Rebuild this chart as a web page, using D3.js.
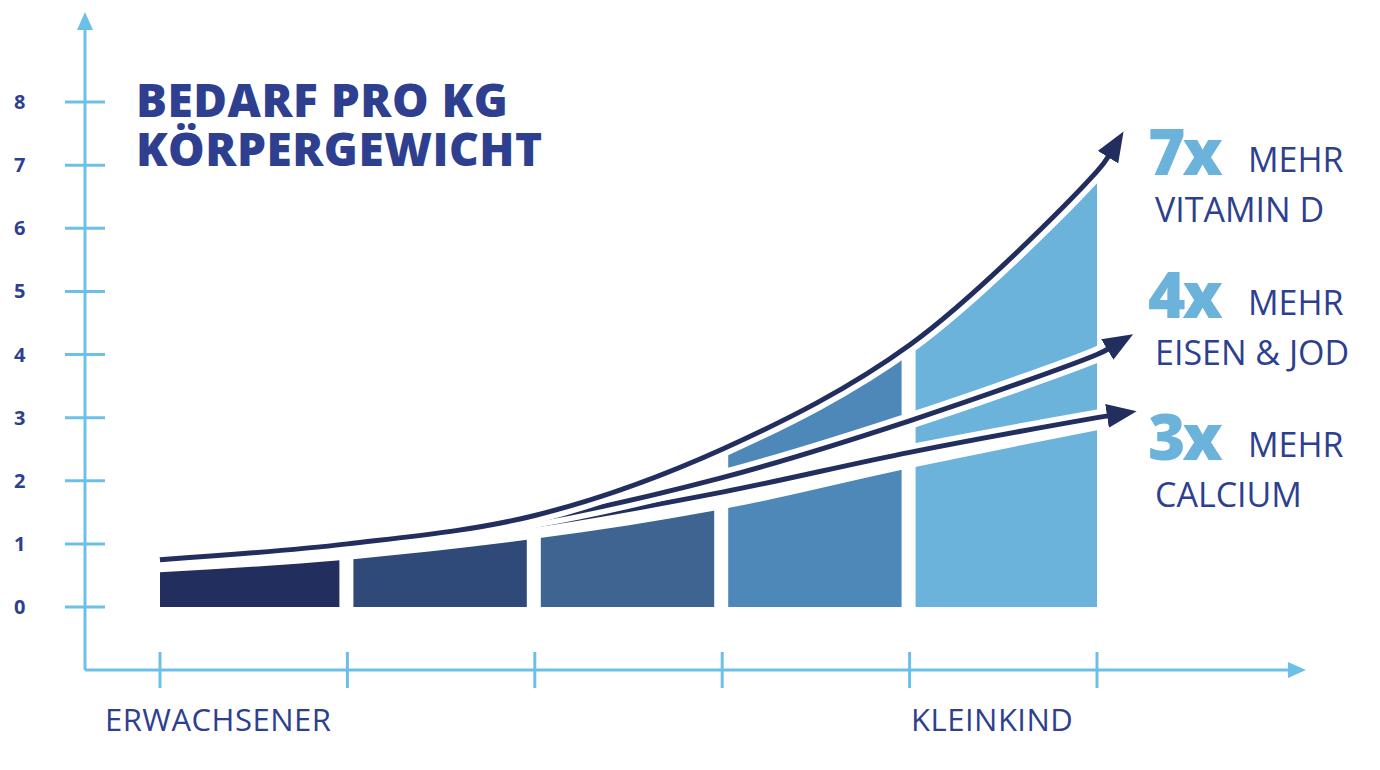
<!DOCTYPE html><html><head><meta charset="utf-8">
<script src="https://cdn.jsdelivr.net/npm/d3@7"></script>
<style>body{margin:0;background:#fff}text{font-family:"Open Sans",sans-serif}</style></head><body>
<svg id="c" width="1380" height="770"></svg>
<script>
const yTicks=[0,1,2,3,4,5,6,7,8];
const xCats=[0,1,2,3,4,5];
const xLabels=[{x:105,t:"ERWACHSENER"},{x:911,t:"KLEINKIND"}];
const vitD=[0.75,1.0,1.45,2.5,4.15,6.9];
const iron=[0.75,0.98,1.38,2.05,2.95,4.0];
const calcium=[0.75,0.97,1.3,1.82,2.45,3.0];
const lowerFill=[0.55,0.75,1.08,1.55,2.2,2.8];
const segColors=["#222f5e","#2f4a78","#3e6591","#4e88b8","#6cb3dc"];
const labels=[{n:"7x",a:"VITAMIN D",y:175},{n:"4x",a:"EISEN & JOD",y:318},{n:"3x",a:"CALCIUM",y:460}];
const svg=d3.select("#c");
const x=d3.scaleLinear().domain([0,5]).range([160,1097]);
const y=d3.scaleLinear().domain([0,8]).range([607,102]);
const ac="#6cc0e8",dark="#222f5e",txt="#2e3f8f";
svg.append("line").attr("x1",85).attr("x2",85).attr("y1",670).attr("y2",25).attr("stroke",ac).attr("stroke-width",3);
svg.append("path").attr("d","M77,30 L85,12 L93,30 Z").attr("fill",ac);
svg.append("line").attr("x1",85).attr("x2",1290).attr("y1",670).attr("y2",670).attr("stroke",ac).attr("stroke-width",3);
svg.append("path").attr("d","M1288,662 L1306,670 L1288,678 Z").attr("fill",ac);
yTicks.forEach(v=>{svg.append("line").attr("x1",65).attr("x2",105).attr("y1",y(v)).attr("y2",y(v)).attr("stroke",ac).attr("stroke-width",3);
svg.append("text").attr("x",14).attr("y",y(v)+7).attr("font-size",20).attr("font-weight",700).attr("fill",txt).text(v);});
xCats.forEach(i=>svg.append("line").attr("x1",x(i)).attr("x2",x(i)).attr("y1",652).attr("y2",688).attr("stroke",ac).attr("stroke-width",3));
xLabels.forEach(d=>svg.append("text").attr("x",d.x).attr("y",731).attr("font-size",31).attr("letter-spacing",0.5).attr("fill",txt).text(d.t));
const cv=d3.curveMonotoneX;
const defs=svg.append("defs");
segColors.forEach((c,i)=>{defs.append("clipPath").attr("id","s"+i).append("rect").attr("x",x(i)+(i?6:0)).attr("y",0).attr("width",x(i+1)-x(i)-(i<4?14:6)+(i?0:6)).attr("height",607);});
const band=(lo,hi)=>d3.area().x((d,i)=>x(i)).y0((d,i)=>y(lo[i])).y1((d,i)=>y(hi[i])).curve(cv)(hi);
const zero=xCats.map(()=>0);
segColors.forEach((c,i)=>{
 const g=svg.append("g").attr("clip-path",`url(#s${i})`);
 g.append("path").attr("d",band(zero,lowerFill)).attr("fill",c);
 if(i>=3) g.append("path").attr("d",band(iron,vitD)).attr("fill",c);
 if(i==4) g.append("path").attr("d",band(calcium,iron)).attr("fill",c);
});
defs.append("marker").attr("id","ah").attr("markerUnits","userSpaceOnUse").attr("viewBox","0 0 30 24").attr("refX",2).attr("refY",12)
 .attr("markerWidth",30).attr("markerHeight",24).attr("orient","auto").append("path").attr("d","M0,0 L30,12 L0,24 Z").attr("fill",dark);
const ext=(arr,dx,dy)=>{const pts=arr.map((v,i)=>[x(i),y(v)]);const l=pts[5];pts.push([l[0]+dx,l[1]+dy]);return pts;};
const line=d3.line().curve(d3.curveCatmullRom);
[[calcium,12,-2],[iron,12,-6],[vitD,12,-16]].forEach(([a,dx,dy])=>{
 const p=line(ext(a,dx,dy));
 svg.append("path").attr("d",p).attr("fill","none").attr("stroke","#fff").attr("stroke-width",16);
 svg.append("path").attr("d",p).attr("fill","none").attr("stroke",dark).attr("stroke-width",5).attr("marker-end","url(#ah)");
});
svg.append("text").attr("x",136).attr("y",117).attr("font-size",46).attr("font-weight",800).attr("fill",txt).attr("letter-spacing",0.5).text("BEDARF PRO KG");
svg.append("text").attr("x",136).attr("y",166).attr("font-size",46).attr("font-weight",800).attr("fill",txt).attr("letter-spacing",0.5).text("KÖRPERGEWICHT");
labels.forEach(d=>{
 svg.append("text").attr("x",1148).attr("y",d.y).attr("font-size",64).attr("font-weight",800).attr("letter-spacing",-3).attr("fill","#6cb3dc").text(d.n);
 svg.append("text").attr("x",1248).attr("y",d.y-3).attr("font-size",34).attr("fill",txt).text("MEHR");
 svg.append("text").attr("x",1155).attr("y",d.y+47).attr("font-size",34).attr("fill",txt).text(d.a);
});
</script></body></html>
